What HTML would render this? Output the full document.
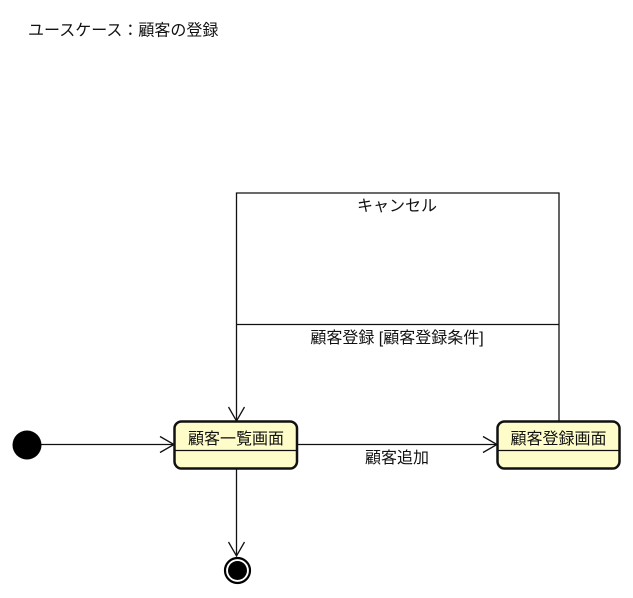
<!DOCTYPE html>
<html><head><meta charset="utf-8"><style>
html,body{margin:0;padding:0;background:#fff;}
svg{display:block;}
text{font-family:"Liberation Sans","Noto Sans CJK JP",sans-serif;font-size:16px;fill:#111;}
</style></head><body>
<svg width="633" height="598" viewBox="0 0 633 598" xmlns="http://www.w3.org/2000/svg">
<text x="28" y="35.5">ユースケース：顧客の登録</text>
<g stroke="#111" stroke-width="1.3" fill="none">
<polyline points="559,421 559,193 236.5,193 236.5,421"/>
<line x1="236.5" y1="324.5" x2="559" y2="324.5"/>
<line x1="41" y1="444.5" x2="174" y2="444.5"/>
<polyline points="160,436.5 174,444.5 160,452.5"/>
<line x1="297" y1="444.5" x2="497" y2="444.5"/>
<polyline points="483,436.5 497,444.5 483,452.5"/>
<polyline points="228.5,407 236.5,421 244.5,407"/>
<line x1="236.5" y1="469" x2="236.5" y2="556"/>
<polyline points="228.5,542 236.5,556 244.5,542"/>
</g>
<text x="397" y="211" text-anchor="middle">キャンセル</text>
<text x="397" y="343" text-anchor="middle">顧客登録 [顧客登録条件]</text>
<text x="397" y="463" text-anchor="middle">顧客追加</text>
<circle cx="27" cy="445" r="14.5" fill="#000"/>
<rect x="174.5" y="421.5" width="122.5" height="47" rx="7" fill="#fefdca" stroke="#111" stroke-width="2.5"/>
<line x1="175" y1="450.5" x2="296" y2="450.5" stroke="#111" stroke-width="1.2"/>
<text x="236" y="444" text-anchor="middle">顧客一覧画面</text>
<rect x="497.5" y="421.5" width="122" height="47" rx="7" fill="#fefdca" stroke="#111" stroke-width="2.5"/>
<line x1="498" y1="450.5" x2="619" y2="450.5" stroke="#111" stroke-width="1.2"/>
<text x="558.5" y="444" text-anchor="middle">顧客登録画面</text>
<circle cx="237.5" cy="570.5" r="12.5" fill="#fff" stroke="#000" stroke-width="2.2"/>
<circle cx="237.5" cy="570.5" r="9.5" fill="#000"/>
</svg>
</body></html>
